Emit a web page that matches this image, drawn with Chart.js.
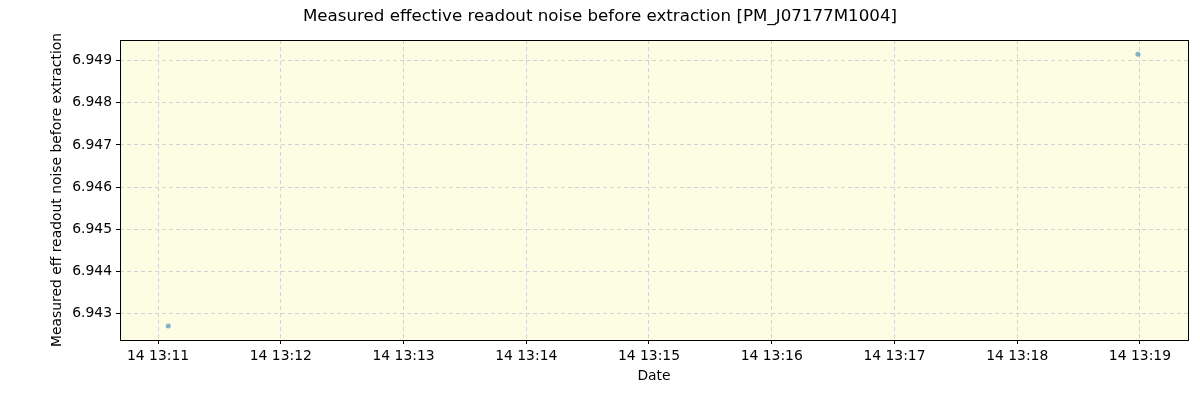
<!DOCTYPE html>
<html>
<head>
<meta charset="utf-8">
<script src="https://cdn.jsdelivr.net/npm/chart.js@4/dist/chart.umd.min.js"></script>
<style>
  html, body { margin: 0; padding: 0; background: #fff; }
  canvas { display: block; }
</style>
</head>
<body>
<canvas id="noiseChart" width="1200" height="400"></canvas>
<script>
// measurement times (day 14) and values
const times = ['13:11:05', '13:18:59'];
const values = [6.94270, 6.94915];
const xTickLabels = ['13:11', '13:12', '13:13', '13:14', '13:15', '13:16', '13:17', '13:18', '13:19'];
const yTickValues = [6.943, 6.944, 6.945, 6.946, 6.947, 6.948, 6.949];
const xRange = ['13:10:41.4', '13:19:23.5'];
const yRange = [6.94237, 6.94949];

// seconds since midnight
const toSec = t => {
    const p = t.split(':').map(Number);
    return p[0] * 3600 + p[1] * 60 + (p[2] || 0);
};
const pad2 = n => String(n).padStart(2, '0');
const fmtTime = s => '14 ' + pad2(Math.floor(s / 3600)) + ':' + pad2(Math.floor((s % 3600) / 60));

const points = times.map((t, i) => ({ x: toSec(t), y: values[i] }));

// plot area background and frame
const framePlugin = {
    id: 'frame',
    beforeDraw(chart) {
        const { ctx, chartArea: a } = chart;
        ctx.save();
        ctx.fillStyle = '#fdfde3';
        ctx.fillRect(a.left, a.top, a.right - a.left, a.bottom - a.top);
        ctx.restore();
    },
    afterDraw(chart) {
        const { ctx, chartArea: a } = chart;
        ctx.save();
        ctx.strokeStyle = '#000';
        ctx.lineWidth = 1;
        ctx.strokeRect(Math.round(a.left) + 0.5, Math.round(a.top) + 0.5,
            Math.round(a.right - a.left), Math.round(a.bottom - a.top));
        ctx.restore();
    }
};

const font = { family: 'DejaVu Sans', size: 13.9 };

new Chart(document.getElementById('noiseChart'), {
    type: 'scatter',
    data: {
        datasets: [{
            data: points,
            backgroundColor: 'rgba(31,119,180,0.55)',
            borderColor: 'rgba(31,119,180,0.55)',
            pointRadius: 2.5,
            pointBorderWidth: 0
        }]
    },
    options: {
        responsive: false,
        animation: false,
        devicePixelRatio: 1,
        layout: { padding: { left: 12, right: 12, top: 0, bottom: 15 } },
        plugins: {
            legend: { display: false },
            tooltip: { enabled: false },
            title: {
                display: true,
                text: 'Measured effective readout noise before extraction [PM_J07177M1004]',
                color: '#000',
                font: { family: 'DejaVu Sans', size: 16.7, weight: 'normal' },
                padding: { top: 7, bottom: 13 }
            }
        },
        scales: {
            x: {
                type: 'linear',
                min: toSec(xRange[0]),
                max: toSec(xRange[1]),
                afterBuildTicks: axis => {
                    axis.ticks = xTickLabels.map(l => ({ value: toSec(l) }));
                },
                afterFit: axis => { axis.height = 45; },
                ticks: {
                    callback: v => fmtTime(v),
                    color: '#000',
                    font: font,
                    maxRotation: 0,
                    autoSkip: false,
                    padding: 4
                },
                grid: {
                    color: '#d3d3d3',
                    tickColor: '#000',
                    tickLength: 4,
                    tickBorderDash: []
                },
                border: { display: false, dash: [4, 3] },
                title: {
                    display: true,
                    text: 'Date',
                    color: '#000',
                    font: font,
                    padding: { top: 0, bottom: 0 }
                }
            },
            y: {
                min: yRange[0],
                max: yRange[1],
                afterBuildTicks: axis => {
                    axis.ticks = yTickValues.map(v => ({ value: v }));
                },
                afterFit: axis => { axis.width = 108; },
                ticks: {
                    callback: v => v.toFixed(3),
                    color: '#000',
                    font: font,
                    padding: 4
                },
                grid: {
                    color: '#d3d3d3',
                    tickColor: '#000',
                    tickLength: 4,
                    tickBorderDash: []
                },
                border: { display: false, dash: [4, 3] },
                title: {
                    display: true,
                    text: 'Measured eff readout noise before extraction',
                    color: '#000',
                    font: font,
                    padding: { top: 37, bottom: 0 }
                }
            }
        }
    },
    plugins: [framePlugin]
});
</script>
</body>
</html>
